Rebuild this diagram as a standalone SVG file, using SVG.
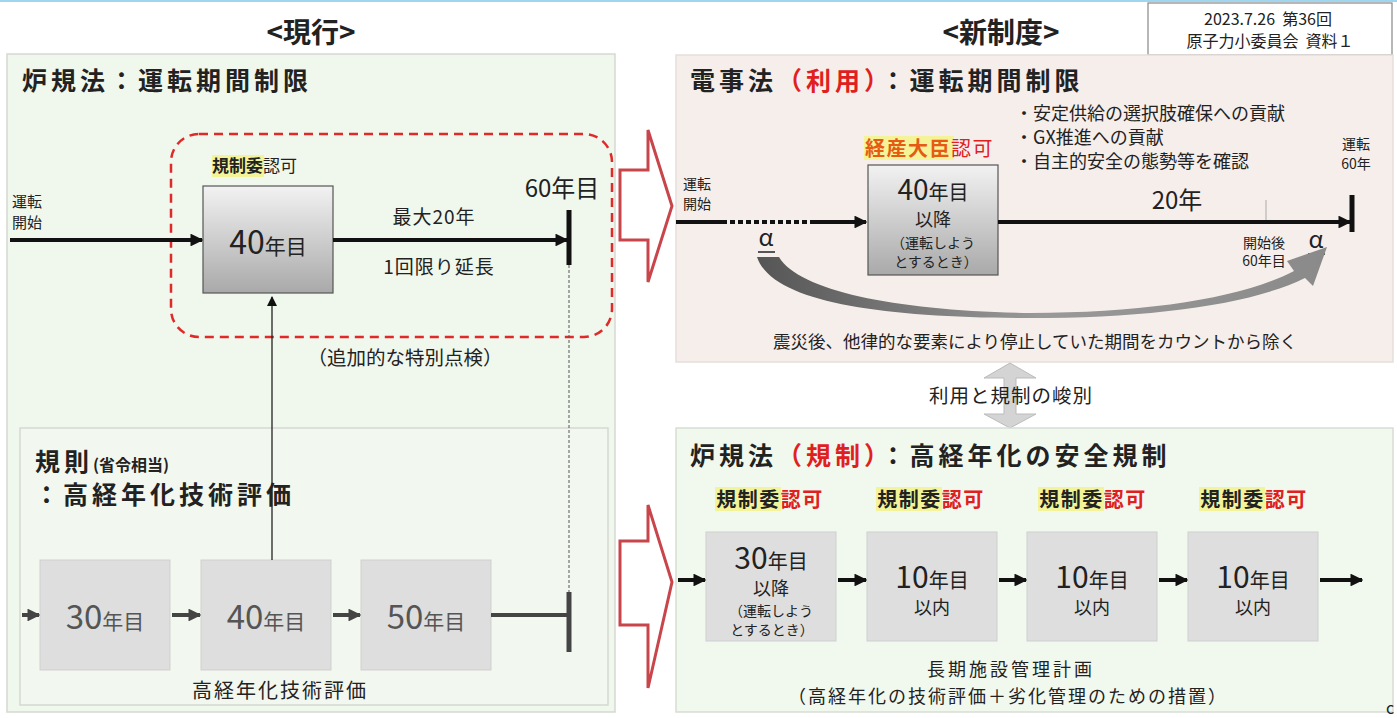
<svg xmlns="http://www.w3.org/2000/svg" width="1397" height="718" viewBox="0 0 1397 718">
<defs>
<style>
text{font-family:"Noto Sans CJK JP","Noto Sans",sans-serif;fill:#222}
.b{font-weight:bold}
.t{font-weight:bold;font-size:25px;letter-spacing:4px}
.red{fill:#e0201e}
.panel{stroke:#d6d9d2;stroke-width:1.5}
.ln{stroke:#111;stroke-width:4;fill:none}
.lng{stroke:#444;stroke-width:4;fill:none}
.hollow{fill:#fff;stroke:#c8464b;stroke-width:3;stroke-linejoin:miter}
.gbox{fill:#dedede;stroke:#cfcfcf;stroke-width:1}
.g{fill:#555}
.hl{fill:#f3f38a;opacity:0.85}
</style>
<linearGradient id="grad" x1="0" y1="0" x2="0" y2="1">
<stop offset="0" stop-color="#f2f2f2"/><stop offset="1" stop-color="#a9a9a9"/>
</linearGradient>
<linearGradient id="curveg" x1="0" y1="0" x2="1" y2="0">
<stop offset="0" stop-color="#555"/><stop offset="0.5" stop-color="#999"/><stop offset="1" stop-color="#8a8a8a"/>
</linearGradient>
<marker id="ah" viewBox="0 0 10 10" refX="9" refY="5" markerWidth="3.2" markerHeight="3.2" orient="auto">
<path d="M0 0 L10 5 L0 10 Z" fill="#111"/>
</marker>
<marker id="ahg" viewBox="0 0 10 10" refX="9" refY="5" markerWidth="3.2" markerHeight="3.2" orient="auto">
<path d="M0 0 L10 5 L0 10 Z" fill="#444"/>
</marker>
<marker id="aht" viewBox="0 0 10 10" refX="9" refY="5" markerWidth="8" markerHeight="8" orient="auto">
<path d="M0 0 L10 5 L0 10 Z" fill="#111"/>
</marker>
</defs>
<rect width="1397" height="718" fill="#fff"/>
<rect x="0" y="0" width="1397" height="2" fill="#9fd6ee"/>

<g id="headings">
<text x="311" y="43" font-size="28" text-anchor="middle" class="b">&lt;現行&gt;</text>
<text x="1001" y="43" font-size="28" text-anchor="middle" class="b">&lt;新制度&gt;</text>
</g>

<g id="doc-label">
<rect x="1148" y="3" width="244" height="52" fill="#fff" stroke="#888" stroke-width="1.2"/>
<text x="1268" y="25" font-size="16" text-anchor="middle" xml:space="preserve">2023.7.26  第36回</text>
<text x="1270" y="47" font-size="16" text-anchor="middle" xml:space="preserve">原子力小委員会  資料１</text>
</g>

<!-- Left: current system -->
<g id="panel-current">
<rect class="panel" x="7" y="54" width="608" height="658" fill="#f0f7ec"/>
<text x="22" y="90" class="t">炉規法：運転期間制限</text>
</g>
<g id="panel-rules">
<rect class="panel" x="20" y="428" width="588" height="277" fill="#f2f8ef"/>
<text x="35" y="471" class="t">規則<tspan font-size="16" letter-spacing="0">(省令相当)</tspan></text>
<text x="34" y="504" class="t">：高経年化技術評価</text>
</g>

<g id="dashed-region">
<rect x="171" y="134" width="441" height="203" rx="28" fill="none" stroke="#e02a2a" stroke-width="2.5" stroke-dasharray="9,6"/>
<text x="405" y="365" font-size="19.5" text-anchor="middle">（追加的な特別点検）</text>
</g>

<g id="node-cur-start">
<text x="12" y="207" font-size="15">運転</text>
<text x="12" y="228" font-size="15">開始</text>
</g>
<g id="node-cur-40">
<rect class="hl" x="212" y="155" width="52" height="22"/>
<text x="212" y="172" font-size="17"><tspan class="b">規制委</tspan>認可</text>
<rect x="203" y="186" width="130" height="107" fill="url(#grad)" stroke="#555" stroke-width="1.2"/>
<text x="268" y="254" text-anchor="middle" fill="#333"><tspan font-size="32">40</tspan><tspan font-size="21">年目</tspan></text>
</g>
<g id="node-cur-60">
<text x="562" y="197" font-size="24" text-anchor="middle">60年目</text>
<line x1="569" y1="210" x2="569" y2="265" stroke="#111" stroke-width="5"/>
</g>
<g id="label-cur-ext">
<text x="434" y="224" font-size="19" letter-spacing="1" text-anchor="middle">最大20年</text>
<text x="439" y="274" font-size="19" letter-spacing="1" text-anchor="middle">1回限り延長</text>
</g>

<g id="node-r30">
<rect class="gbox" x="40" y="560" width="130" height="110"/>
<text x="105" y="629" text-anchor="middle" class="g"><tspan font-size="33" class="g">30</tspan><tspan font-size="21" class="g">年目</tspan></text>
</g>
<g id="node-r40">
<rect class="gbox" x="201" y="560" width="130" height="110"/>
<text x="266" y="629" text-anchor="middle" class="g"><tspan font-size="33" class="g">40</tspan><tspan font-size="21" class="g">年目</tspan></text>
</g>
<g id="node-r50">
<rect class="gbox" x="361" y="560" width="130" height="110"/>
<text x="426" y="629" text-anchor="middle" class="g"><tspan font-size="33" class="g">50</tspan><tspan font-size="21" class="g">年目</tspan></text>
</g>
<g id="node-r-end">
<line x1="569" y1="592" x2="569" y2="652" stroke="#444" stroke-width="5"/>
</g>
<text x="280" y="698" font-size="20" letter-spacing="2" text-anchor="middle">高経年化技術評価</text>

<!-- Transition arrows -->
<g id="transition-arrows">
<path class="hollow" d="M620 170 L648 170 L648 130 L672 206 L648 282 L648 240 L620 240 Z"/>
<path class="hollow" d="M620 541 L648 541 L648 505 L672 582 L648 688 L648 625 L620 625 Z"/>
</g>

<!-- Right top -->
<g id="panel-utilization">
<rect x="676" y="55" width="717" height="307" fill="#f6eeeb" stroke="#e6dedb" stroke-width="1.5"/>
<text x="690" y="90" class="t">電事法<tspan class="red">（利用）</tspan>：運転期間制限</text>
<text x="1015" y="120" font-size="18">・安定供給の選択肢確保への貢献</text>
<text x="1015" y="144" font-size="18">・GX推進への貢献</text>
<text x="1015" y="168" font-size="18">・自主的安全の態勢等を確認</text>
</g>
<g id="node-new-start">
<text x="683" y="189" font-size="14">運転</text>
<text x="683" y="209" font-size="14">開始</text>
</g>
<g id="node-new-40">
<rect class="hl" x="864" y="136" width="90" height="24"/>
<text x="865" y="156" font-size="20" letter-spacing="1.5"><tspan class="b" fill="#e65a14">経産大臣</tspan><tspan class="red">認可</tspan></text>
<rect x="868" y="165" width="130" height="110" fill="url(#grad)" stroke="#555" stroke-width="1.2"/>
<text x="933" y="200" text-anchor="middle"><tspan font-size="28">40</tspan><tspan font-size="20">年目</tspan></text>
<text x="933" y="226" font-size="18" text-anchor="middle">以降</text>
<text x="933" y="248" font-size="14" text-anchor="middle">（運転しよう</text>
<text x="936" y="267" font-size="14" text-anchor="middle">とするとき）</text>
</g>
<g id="node-new-60">
<text x="1356" y="149" font-size="14" text-anchor="middle">運転</text>
<text x="1356" y="169" font-size="14" text-anchor="middle">60年</text>
<line x1="1352" y1="195" x2="1352" y2="232" stroke="#111" stroke-width="5"/>
</g>
<g id="labels-new">
<text x="1177" y="209" font-size="24" text-anchor="middle">20年</text>
<line x1="1266" y1="200" x2="1266" y2="222" stroke="#aaa" stroke-width="1"/>
<text x="1264" y="248" font-size="14" text-anchor="middle">開始後</text>
<text x="1264" y="266" font-size="14" text-anchor="middle">60年目</text>
<text x="766" y="246" font-size="24" text-anchor="middle">α</text>
<line x1="758" y1="252" x2="775" y2="252" stroke="#222" stroke-width="1.5"/>
<text x="1316" y="248" font-size="24" text-anchor="middle">α</text>
<line x1="1308" y1="254" x2="1325" y2="254" stroke="#222" stroke-width="1.5"/>
<text x="1035" y="348" font-size="17.5" text-anchor="middle">震災後、他律的な要素により停止していた期間をカウントから除く</text>
</g>

<g id="separation">
<path d="M1010 363 L1036 378 L1016 378 L1016 414 L1036 414 L1010 428 L984 414 L1004 414 L1004 378 L984 378 Z" fill="#d4d4d4" stroke="#bbb" stroke-width="1"/>
<text x="1011" y="403" font-size="19.5" letter-spacing="1" text-anchor="middle">利用と規制の峻別</text>
</g>

<!-- Right bottom -->
<g id="panel-regulation">
<rect x="676" y="428" width="717" height="284" fill="#f1f8ee" stroke="#d9ddd5" stroke-width="1.5"/>
<text x="690" y="465" class="t">炉規法<tspan class="red">（規制）</tspan>：高経年化の安全規制</text>
</g>
<g id="node-reg1">
<rect class="hl" x="715" y="487" width="66" height="24"/>
<text x="770" y="507" font-size="20" letter-spacing="1.5" text-anchor="middle" class="b">規制委<tspan class="red">認可</tspan></text>
<rect class="gbox" x="706" y="532" width="130" height="109"/>
<text x="771" y="569" text-anchor="middle"><tspan font-size="30">30</tspan><tspan font-size="20">年目</tspan></text>
<text x="771" y="595" font-size="18" text-anchor="middle">以降</text>
<text x="771" y="616" font-size="14" text-anchor="middle">（運転しよう</text>
<text x="772" y="635" font-size="14" text-anchor="middle">とするとき）</text>
</g>
<g id="node-reg2">
<rect class="hl" x="876" y="487" width="66" height="24"/>
<text x="931" y="507" font-size="20" letter-spacing="1.5" text-anchor="middle" class="b">規制委<tspan class="red">認可</tspan></text>
<rect class="gbox" x="867" y="532" width="130" height="109"/>
<text x="932" y="588" text-anchor="middle"><tspan font-size="30">10</tspan><tspan font-size="20">年目</tspan></text>
<text x="932" y="614" font-size="18" text-anchor="middle">以内</text>
</g>
<g id="node-reg3">
<rect class="hl" x="1038" y="487" width="66" height="24"/>
<text x="1093" y="507" font-size="20" letter-spacing="1.5" text-anchor="middle" class="b">規制委<tspan class="red">認可</tspan></text>
<rect class="gbox" x="1027" y="532" width="130" height="109"/>
<text x="1092" y="588" text-anchor="middle"><tspan font-size="30">10</tspan><tspan font-size="20">年目</tspan></text>
<text x="1092" y="614" font-size="18" text-anchor="middle">以内</text>
</g>
<g id="node-reg4">
<rect class="hl" x="1199" y="487" width="66" height="24"/>
<text x="1254" y="507" font-size="20" letter-spacing="1.5" text-anchor="middle" class="b">規制委<tspan class="red">認可</tspan></text>
<rect class="gbox" x="1188" y="532" width="130" height="109"/>
<text x="1253" y="588" text-anchor="middle"><tspan font-size="30">10</tspan><tspan font-size="20">年目</tspan></text>
<text x="1253" y="614" font-size="18" text-anchor="middle">以内</text>
</g>
<g id="label-plan">
<text x="1011" y="676" font-size="18" letter-spacing="3" text-anchor="middle">長期施設管理計画</text>
<text x="1008" y="703" font-size="18" letter-spacing="2" text-anchor="middle">（高経年化の技術評価＋劣化管理のための措置）</text>
</g>
<text x="1386" y="714" font-size="16">c</text>

<!-- Connectors -->
<g id="connectors">
<line class="ln" x1="10" y1="240" x2="202" y2="240" marker-end="url(#ah)"/>
<line class="ln" x1="333" y1="240" x2="567" y2="240" marker-end="url(#ah)"/>
<line x1="272" y1="560" x2="272" y2="297" stroke="#222" stroke-width="1.3" marker-end="url(#aht)"/>
<line x1="569" y1="265" x2="569" y2="592" stroke="#555" stroke-width="1" stroke-dasharray="3,2"/>
<line class="lng" x1="22" y1="615" x2="39" y2="615" marker-end="url(#ahg)"/>
<line class="lng" x1="172" y1="615" x2="200" y2="615" marker-end="url(#ahg)"/>
<line class="lng" x1="333" y1="615" x2="360" y2="615" marker-end="url(#ahg)"/>
<line class="lng" x1="491" y1="615" x2="569" y2="615"/>
<line class="ln" x1="676" y1="222" x2="722" y2="222"/>
<line class="ln" x1="722" y1="222" x2="810" y2="222" stroke-dasharray="5,3"/>
<line class="ln" x1="810" y1="222" x2="866" y2="222" marker-end="url(#ah)"/>
<line class="ln" x1="998" y1="222" x2="1350" y2="222" marker-end="url(#ah)"/>
<path d="M757 257 L779 257 C800 292 900 311 1030 313 C1150 313 1245 297 1294 271 L1287 261 L1327 247 L1313 286 L1305 278 C1250 305 1150 318 1030 318 C880 318 772 302 757 257 Z" fill="url(#curveg)"/>
<line class="ln" x1="678" y1="580" x2="705" y2="580" marker-end="url(#ah)"/>
<line class="ln" x1="838" y1="580" x2="866" y2="580" marker-end="url(#ah)"/>
<line class="ln" x1="999" y1="580" x2="1026" y2="580" marker-end="url(#ah)"/>
<line class="ln" x1="1159" y1="580" x2="1187" y2="580" marker-end="url(#ah)"/>
<line class="ln" x1="1320" y1="580" x2="1362" y2="580" marker-end="url(#ah)"/>
</g>
</svg>
